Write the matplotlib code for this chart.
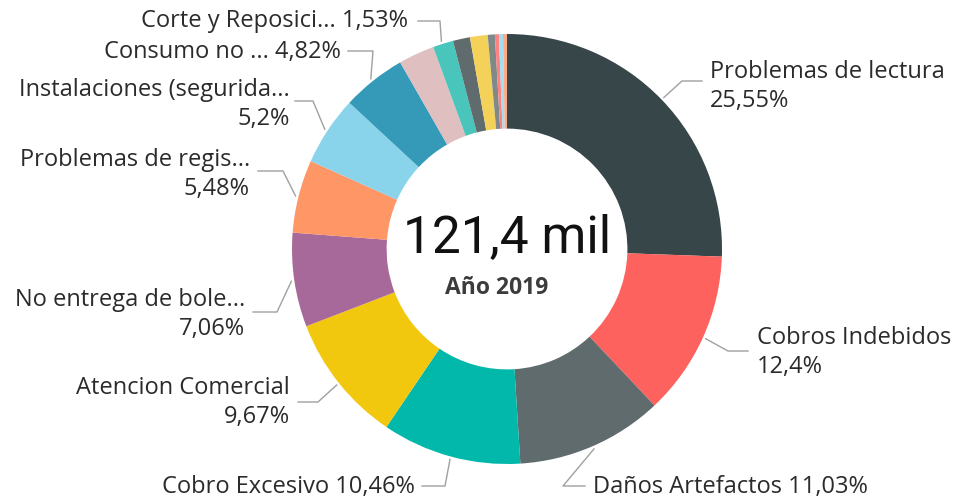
import numpy as np
import matplotlib.pyplot as plt

# data (clockwise from 12 o'clock)
categories = ['Problemas de lectura', 'Cobros Indebidos', 'Daños Artefactos', 'Cobro Excesivo',
              'Atencion Comercial', 'No entrega de bole...', 'Problemas de regis...',
              'Instalaciones (segurida...', 'Consumo no ...', '', 'Corte y Reposici...',
              '', '', '', '', '', '']
shares = [25.55, 12.4, 11.03, 10.46, 9.67, 7.06, 5.48, 5.2, 4.82, 2.7, 1.53,
          1.28, 1.33, 0.53, 0.3, 0.3, 0.3]
pct_text = ['25,55%', '12,4%', '11,03%', '10,46%', '9,67%', '7,06%', '5,48%',
            '5,2%', '4,82%', '', '1,53%', '', '', '', '', '', '']
colors = ['#374649', '#FD625E', '#5F6B6D', '#01B8AA', '#F2C80F', '#A66999', '#FE9666',
          '#8AD4EB', '#3599B8', '#DFBFBF', '#4AC5BB', '#5F6B6D', '#F4D25A', '#7F898A',
          '#FB8281', '#A4DDEE', '#FDAB89']
total_text = '121,4 mil'
subtitle = 'Año 2019'

# label layout: (elbow point, end of horizontal, text x, text y, align, two lines?)
layout = {
    0: ((682, 82), 702, 710, 72, 'left', True),
    1: ((728, 352), 748, 757, 338, 'left', True),
    2: ((563, 487), 585, 593, 487, 'left', False),
    3: ((445, 487), 422, 415, 487, 'right', False),
    4: ((318, 403), 298, 290, 388, 'right', True),
    5: ((277, 313), 253, 245, 300, 'right', True),
    6: ((283, 172), 258, 250, 160, 'right', True),
    7: ((313, 102), 295, 290, 90, 'right', True),
    8: ((373, 52), 348, 341, 52, 'right', False),
    10: ((440, 22), 418, 408, 21, 'right', False),
}

W, H = 956, 502
fig = plt.figure(figsize=(W / 100, H / 100), dpi=100)
ax = fig.add_axes([0, 0, 1, 1])
cx, cy, R = 507, 250, 215

# y axis is inverted below, so counterclock in data space reads clockwise on screen
ax.pie(shares, colors=colors, startangle=-90, counterclock=True, center=(cx, cy),
       radius=R, wedgeprops=dict(width=R * 0.44, linewidth=0))
ax.set_xlim(0, W)
ax.set_ylim(H, 0)
ax.set_aspect('equal')
ax.axis('off')

fam = ['Open Sans', 'DejaVu Sans']
txt_color = '#2b2b2b'
fs = 17
cum = np.cumsum([0] + shares[:-1])
for i, (elbow, hx, tx, ty, ha, two) in layout.items():
    mid = (cum[i] + shares[i] / 2) / 100 * 2 * np.pi
    sx = cx + (R + 3) * np.sin(mid)
    sy = cy - (R + 3) * np.cos(mid)
    ax.plot([sx, elbow[0], hx], [sy, elbow[1], elbow[1]], color='#a0a0a0', lw=1)
    if two:
        ax.text(tx, ty, categories[i], ha=ha, va='center', fontsize=fs, color=txt_color, family=fam)
        ax.text(tx, ty + 29, pct_text[i], ha=ha, va='center', fontsize=fs, color=txt_color, family=fam)
    else:
        ax.text(tx, ty, categories[i] + ' ' + pct_text[i], ha=ha, va='center', fontsize=fs,
                color=txt_color, family=fam)

ax.text(cx, 238, total_text, ha='center', va='center', fontsize=37, color='#111111',
        family=['Roboto', 'DejaVu Sans'])
ax.text(cx - 10, 288, subtitle, ha='center', va='center', fontsize=16.5, color='#3c3c3c',
        fontweight='bold', family=['Open Sans', 'DejaVu Sans'])

fig.savefig('out.png', dpi=100, facecolor='white')
